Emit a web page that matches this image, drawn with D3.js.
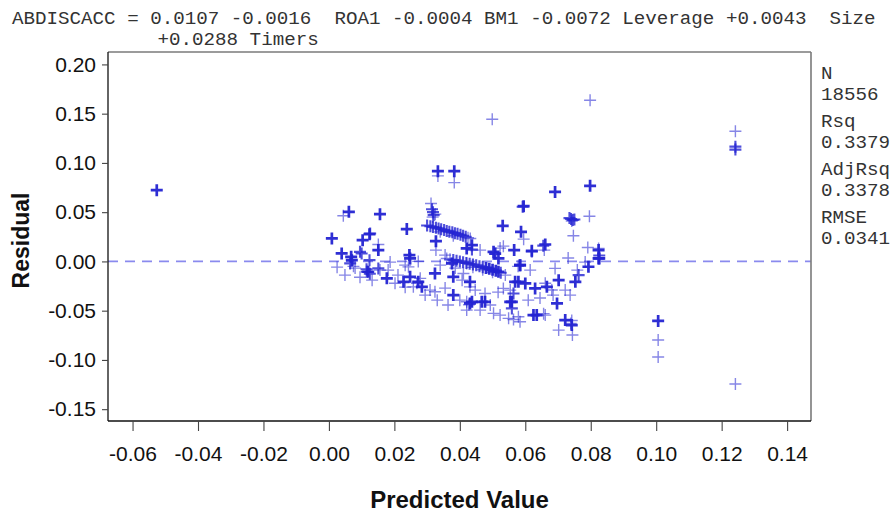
<!DOCTYPE html>
<html>
<head>
<meta charset="utf-8">
<script src="https://cdn.jsdelivr.net/npm/d3@7"></script>
<style>
  html, body { margin: 0; padding: 0; background: #fff; }
  svg { display: block; }
</style>
</head>
<body>
<svg id="chart" width="893" height="512"></svg>
<script>
// ---- data ----
const titleLine1 = "ABDISCACC = 0.0107 -0.0016  ROA1 -0.0004 BM1 -0.0072 Leverage +0.0043  Size";
const titleLine2 = "+0.0288 Timers";
const statLabels = ["N", "Rsq", "AdjRsq", "RMSE"];
const statValues = ["18556", "0.3379", "0.3378", "0.0341"];
const xTicks = [-0.06, -0.04, -0.02, 0.00, 0.02, 0.04, 0.06, 0.08, 0.10, 0.12, 0.14];
const yTicks = [-0.15, -0.10, -0.05, 0.00, 0.05, 0.10, 0.15, 0.20];
const xLabel = "Predicted Value";
const yLabel = "Residual";

// predicted value, residual, overlap count
const predicted = [
  -0.0526, 0.0499, 0.0798, 0.1242, 0.1242, 0.1242, 0.1242, 0.1006, 0.1006, 0.1006,
  0.0333, 0.0333, 0.0383, 0.0383, 0.0312, 0.0315, 0.0318, 0.0320, 0.0317, 0.0325,
  0.0061, 0.0044, 0.0156, 0.0238, 0.0009, 0.0124, 0.0103, 0.0151, 0.0151, 0.0327,
  0.0327, 0.0039, 0.0068, 0.0095, 0.0246, 0.0124, 0.0273, 0.0421,
  0.0691, 0.0798, 0.0595, 0.0592, 0.0735, 0.0740, 0.0745, 0.0750, 0.0742, 0.0796,
  0.0531, 0.0587, 0.0595, 0.0747, 0.0661, 0.0655, 0.0620, 0.0566, 0.0533, 0.0503,
  0.0437, 0.0437, 0.0791, 0.0824, 0.0826, 0.0826, 0.0518, 0.0658,
  0.0300, 0.0310, 0.0318, 0.0327, 0.0335, 0.0343, 0.0352, 0.0360, 0.0368, 0.0377,
  0.0385, 0.0393, 0.0402, 0.0410, 0.0418, 0.0425, 0.0432, 0.0340, 0.0380,
  0.0360, 0.0370, 0.0380, 0.0390, 0.0400, 0.0410, 0.0420, 0.0430, 0.0440, 0.0450,
  0.0460, 0.0470, 0.0480, 0.0490, 0.0500, 0.0510, 0.0518, 0.0525, 0.0440, 0.0470, 0.0500,
  0.0070, 0.0065, 0.0075, 0.0100, 0.0120, 0.0115, 0.0125, 0.0151, 0.0177, 0.0248,
  0.0233, 0.0228, 0.0248, 0.0284, 0.0279, 0.0324, 0.0324, 0.0376, 0.0380, 0.0411,
  0.0380, 0.0400, 0.0421, 0.0421,
  0.0431, 0.0437, 0.0477, 0.0569, 0.0584, 0.0600, 0.0630, 0.0533, 0.0559, 0.0559,
  0.0579, 0.0635, 0.0661, 0.0697, 0.0702, 0.0753, 0.0763, 0.0722, 0.0793, 0.0691,
  0.0722, 0.0742, 0.0702, 0.0744, 0.0824, 0.0824, 0.0508, 0.0620,
  0.0431, 0.0467, 0.0477, 0.0431, 0.0428, 0.0421, 0.0503, 0.0523, 0.0549, 0.0564,
  0.0584, 0.0625, 0.0656, 0.0554, 0.0564, 0.0579, 0.0584, 0.0666, 0.0578, 0.0681,
  0.0742, 0.0739,
  0.0181, 0.0202, 0.0269, 0.0294, 0.0309, 0.0355, 0.0386, 0.0407, 0.0447, 0.0462,
  0.0493, 0.0517, 0.0539, 0.0554, 0.0609, 0.0645, 0.0661, 0.0685, 0.0615, 0.0523,
  0.0462, 0.0731, 0.0783, 0.0737, 0.0759,
  0.0025, 0.0049, 0.0080, 0.0095, 0.0132, 0.0156, 0.0187, 0.0211, 0.0233, 0.0340,
  0.0355, 0.0331, 0.0364, 0.0126, 0.0273, 0.0258, 0.0116, 0.0243
];
const residual = [
  0.0723, 0.1443, 0.1636, 0.1321, 0.1165, 0.1135, -0.1245, -0.0604, -0.0798, -0.0970,
  0.0916, 0.0868, 0.0916, 0.0800, 0.0588, 0.0530, 0.0500, 0.0470, 0.0450, 0.0480,
  0.0503, 0.0463, 0.0480, 0.0328, 0.0233, 0.0277, 0.0216, 0.0115, 0.0172, 0.0206,
  0.0115, 0.0081, 0.0047, 0.0097, 0.0064, 0.0013, 0.0000, 0.0132,
  0.0706, 0.0767, 0.0561, 0.0555, 0.0440, 0.0430, 0.0420, 0.0425, 0.0410, 0.0459,
  0.0361, 0.0300, 0.0226, 0.0260, 0.0172, 0.0160, 0.0108, 0.0115, 0.0155, 0.0097,
  0.0165, 0.0120, 0.0142, 0.0132, 0.0030, 0.0060, 0.0030, 0.0115,
  0.0365, 0.0357, 0.0350, 0.0342, 0.0335, 0.0327, 0.0318, 0.0310, 0.0302, 0.0295,
  0.0287, 0.0280, 0.0270, 0.0260, 0.0250, 0.0240, 0.0232, 0.0300, 0.0260,
  0.0030, 0.0022, 0.0015, 0.0008, 0.0000, -0.0008, -0.0016, -0.0024, -0.0032, -0.0040,
  -0.0050, -0.0058, -0.0066, -0.0075, -0.0085, -0.0095, -0.0105, -0.0115, -0.0060, -0.0085, -0.0110,
  0.0013, -0.0020, -0.0050, 0.0080, -0.0105, -0.0080, -0.0125, -0.0071, -0.0172, 0.0030,
  -0.0038, -0.0207, -0.0156, -0.0258, -0.0172, -0.0122, -0.0308, -0.0020, -0.0156, -0.0122,
  -0.0342, -0.0393, -0.0410, -0.0020,
  -0.0207, -0.0410, -0.0410, -0.0207, -0.0038, -0.0223, -0.0274, -0.0274, -0.0410, -0.0477,
  -0.0562, -0.0545, -0.0545, -0.0426, -0.0190, -0.0207, -0.0139, -0.0291, -0.0054, -0.0071,
  -0.0595, -0.0646, -0.0697, -0.0747, 0.0030, 0.0115, 0.0080, 0.0100,
  -0.0426, -0.0410, -0.0325, -0.0258, -0.0440, -0.0494, -0.0527, -0.0545, -0.0578, -0.0590,
  -0.0613, -0.0545, -0.0530, -0.0410, -0.0325, -0.0207, -0.0038, -0.0258, -0.0050, -0.0290,
  -0.0600, -0.0630,
  -0.0088, -0.0221, -0.0221, -0.0342, -0.0291, -0.0271, -0.0068, -0.0190, -0.0291, -0.0494,
  -0.0443, -0.0312, -0.0139, -0.0291, -0.0393, -0.0372, -0.0221, -0.0342, -0.0088, 0.0135,
  0.0115, 0.0034, -0.0007, -0.0342, -0.0088,
  -0.0058, -0.0139, -0.0068, -0.0160, -0.0190, -0.0088, -0.0007, -0.0139, -0.0261, -0.0038,
  0.0064, -0.0393, -0.0443, 0.0284, -0.0207, -0.0258, -0.0105, -0.0055
];
const overlap = [
  3, 1, 1, 1, 2, 2, 1, 3, 1, 1,
  3, 1, 3, 1, 1, 2, 2, 2, 1, 1,
  3, 1, 3, 3, 3, 3, 3, 3, 1, 3,
  1, 3, 3, 2, 3, 2, 1, 3,
  3, 3, 3, 2, 2, 2, 2, 2, 1, 1,
  3, 3, 1, 1, 3, 2, 3, 3, 1, 3,
  3, 2, 1, 1, 3, 2, 3, 1,
  2, 2, 2, 2, 2, 2, 2, 2, 2, 2,
  2, 2, 2, 2, 2, 1, 1, 1, 1,
  1, 1, 2, 2, 2, 2, 2, 2, 2, 2,
  2, 2, 3, 3, 3, 3, 3, 2, 1, 1, 1,
  3, 2, 1, 2, 3, 2, 2, 2, 3, 3,
  1, 3, 3, 3, 1, 3, 1, 3, 3, 1,
  3, 1, 1, 1,
  3, 3, 3, 3, 3, 3, 3, 1, 3, 2,
  1, 3, 1, 3, 3, 3, 2, 1, 3, 1,
  3, 3, 1, 1, 3, 3, 3, 2,
  3, 3, 1, 1, 1, 1, 1, 1, 1, 1,
  1, 3, 1, 3, 2, 3, 3, 3, 1, 1,
  1, 1,
  1, 1, 1, 1, 1, 1, 1, 1, 1, 1,
  1, 1, 1, 1, 1, 1, 1, 1, 1, 1,
  1, 1, 1, 1, 1,
  1, 1, 1, 1, 1, 1, 1, 1, 1, 1,
  1, 1, 1, 2, 3, 1, 2, 1
];

// ---- drawing ----
const svg = d3.select("#chart");
const pLeft = 108, pRight = 811, pTop = 52, pBottom = 421;
const x = d3.scaleLinear().domain([-0.0675, 0.1473]).range([pLeft, pRight]);
const y = d3.scaleLinear().domain([-0.162, 0.2126]).range([pBottom, pTop]);
const fmt = d => d.toFixed(2);
const sans = "'Liberation Sans', Arial, sans-serif";
const mono = "'Liberation Mono', 'Courier New', monospace";

// title
svg.append("text").attr("x", 12).attr("y", 24)
  .attr("font-family", mono).attr("font-size", 19.2).attr("fill", "#333")
  .style("white-space", "pre").text(titleLine1);
svg.append("text").attr("x", 157.5).attr("y", 45)
  .attr("font-family", mono).attr("font-size", 19.2).attr("fill", "#333")
  .style("white-space", "pre").text(titleLine2);

// zero reference line
svg.append("line")
  .attr("x1", pLeft).attr("x2", pRight).attr("y1", y(0)).attr("y2", y(0))
  .attr("stroke", "#8a8aee").attr("stroke-width", 1.6)
  .attr("stroke-dasharray", "10,7");

// points
const pts = predicted.map((p, i) => ({p, r: residual[i], n: overlap[i]}));
const opac = {1: 0.55, 2: 0.8, 3: 0.95};
const sw = {1: 1.4, 2: 2.1, 3: 2.7};
svg.append("g").selectAll("path").data(pts).join("path")
  .attr("transform", d => `translate(${x(d.p)},${y(d.r)})`)
  .attr("d", "M-6,0H6M0,-6V6")
  .attr("fill", "none")
  .attr("stroke", "#2323d2")
  .attr("stroke-opacity", d => opac[d.n])
  .attr("stroke-width", d => sw[d.n]);

// frame
svg.append("line").attr("x1", pLeft).attr("x2", pRight).attr("y1", pTop).attr("y2", pTop)
  .attr("stroke", "#7a7a7a").attr("stroke-width", 1.6);
svg.append("line").attr("x1", pRight).attr("x2", pRight).attr("y1", pTop).attr("y2", pBottom)
  .attr("stroke", "#7a7a7a").attr("stroke-width", 1.6);

// axes
const yAxis = svg.append("g").attr("transform", `translate(${pLeft},0)`)
  .call(d3.axisLeft(y).tickValues(yTicks).tickFormat(fmt).tickSize(6).tickPadding(6));
const xAxis = svg.append("g").attr("transform", `translate(0,${pBottom})`)
  .call(d3.axisBottom(x).tickValues(xTicks).tickFormat(fmt).tickSize(10).tickPadding(15));
[xAxis, yAxis].forEach(g => {
  g.select(".domain").attr("stroke", "#111").attr("stroke-width", 1.3);
  g.selectAll(".tick line").attr("stroke", "#444").attr("stroke-width", 1.1);
  g.selectAll(".tick text").attr("font-family", sans).attr("font-size", 21).attr("fill", "#111");
});
yAxis.select(".domain").attr("d", `M0,${pTop}V${pBottom}`);
xAxis.select(".domain").attr("d", `M${pLeft},0H${pRight}`);

// axis titles
svg.append("text").attr("x", (pLeft + pRight) / 2).attr("y", 508)
  .attr("text-anchor", "middle").attr("font-family", sans).attr("font-weight", "bold")
  .attr("font-size", 24).attr("fill", "#111").text(xLabel);
svg.append("text").attr("transform", `translate(29,${(pTop + pBottom) / 2 + 4}) rotate(-90)`)
  .attr("text-anchor", "middle").attr("font-family", sans).attr("font-weight", "bold")
  .attr("font-size", 23).attr("fill", "#111").text(yLabel);

// fit statistics
const statG = svg.append("g").attr("font-family", mono).attr("font-size", 19.2).attr("fill", "#333");
statLabels.forEach((lab, i) => {
  statG.append("text").attr("x", 821).attr("y", 79 + i * 48).text(lab);
  statG.append("text").attr("x", 821).attr("y", 100 + i * 48).text(statValues[i]);
});
</script>
</body>
</html>
